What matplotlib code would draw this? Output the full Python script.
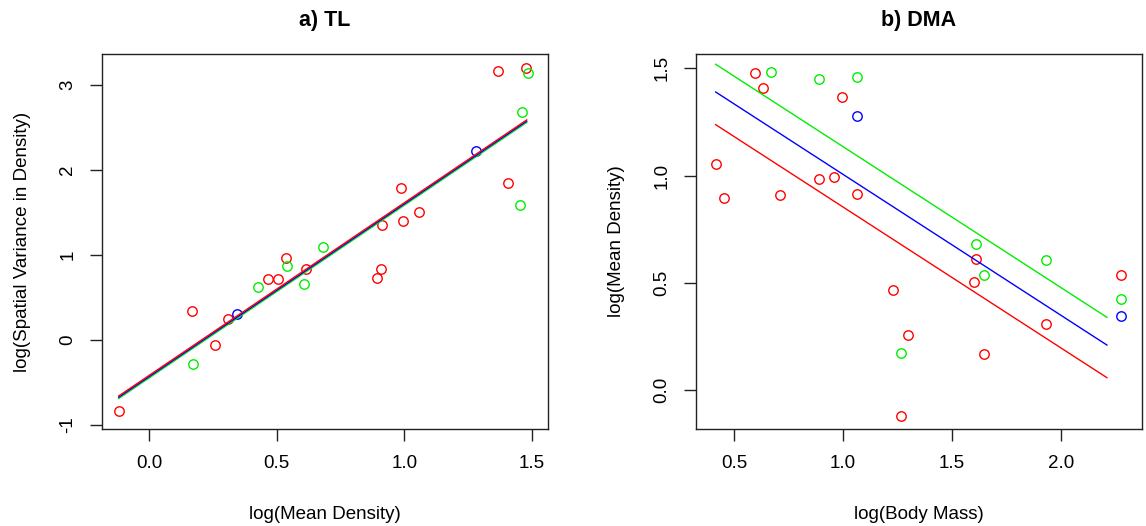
import matplotlib
matplotlib.use("Agg")
import matplotlib.pyplot as plt
import numpy as np

plt.rcParams['font.family'] = ['Liberation Sans', 'DejaVu Sans']

# ---------------- Panel a) TL data ----------------
tl_red_x = [-0.12, 0.169, 0.259, 0.310, 0.467, 0.503, 0.537, 0.613, 0.894, 0.909,
            0.913, 0.986, 0.994, 1.056, 1.366, 1.408, 1.478]
tl_red_y = [-0.835, 0.341, -0.059, 0.247, 0.718, 0.722, 0.969, 0.835, 0.733, 0.839,
            1.349, 1.788, 1.396, 1.506, 3.161, 1.851, 3.196]
tl_green_x = [0.173, 0.425, 0.539, 0.605, 0.681, 1.452, 1.460, 1.486]
tl_green_y = [-0.279, 0.627, 0.874, 0.655, 1.098, 1.588, 2.686, 3.141]
tl_blue_x = [0.344, 1.280]
tl_blue_y = [0.302, 2.224]

# fitted lines (intercept, slope) per group, and x extent
tl_line_int = {'red': -0.415, 'blue': -0.430, 'green': -0.445}
tl_line_slope = 2.03
tl_line_x = [-0.12, 1.48]

# ---------------- Panel b) DMA data ----------------
dma_red_x = [0.416, 0.453, 0.598, 0.634, 0.712, 0.890, 0.959, 0.994, 1.067, 1.229,
             1.265, 1.298, 1.604, 1.612, 1.650, 1.931, 2.277]
dma_red_y = [1.055, 0.896, 1.478, 1.407, 0.908, 0.986, 0.995, 1.366, 0.913, 0.467,
             -0.120, 0.259, 0.503, 0.613, 0.169, 0.309, 0.537]
dma_green_x = [0.668, 0.890, 1.067, 1.265, 1.612, 1.650, 1.931, 2.277]
dma_green_y = [1.484, 1.451, 1.459, 0.172, 0.683, 0.537, 0.607, 0.425]
dma_blue_x = [1.067, 2.277]
dma_blue_y = [1.279, 0.346]

dma_line_int = {'red': 1.510, 'blue': 1.662, 'green': 1.791}
dma_line_slope = -0.656
dma_line_x = [0.416, 2.212]

tl_xticks = [0.0, 0.5, 1.0, 1.5]
tl_xticklabels = ['0.0', '0.5', '1.0', '1.5']
tl_yticks = [-1, 0, 1, 2, 3]
tl_yticklabels = ['-1', '0', '1', '2', '3']
dma_xticks = [0.5, 1.0, 1.5, 2.0]
dma_xticklabels = ['0.5', '1.0', '1.5', '2.0']
dma_yticks = [0.0, 0.5, 1.0, 1.5]
dma_yticklabels = ['0.0', '0.5', '1.0', '1.5']

COLORS = {'red': '#FF0000', 'green': '#00EE00', 'blue': '#0000FF'}

W, H = 1146, 526
fig = plt.figure(figsize=(W / 100, H / 100), dpi=100)


def make_axes(left_px, right_px, top_px, bottom_px):
    return fig.add_axes([left_px / W, 1 - bottom_px / H,
                         (right_px - left_px) / W, (bottom_px - top_px) / H])


def style(ax, xticks, xtl, yticks, ytl, xlabel, ylabel, title):
    for s in ax.spines.values():
        s.set_linewidth(1.0)
        s.set_color('#222222')
    ax.set_xticks(xticks)
    ax.set_xticklabels(xtl)
    ax.set_yticks(yticks)
    ax.set_yticklabels(ytl, rotation=90, va='center')
    ax.tick_params(axis='both', direction='out', length=8.5, width=1.0,
                   color='#222222', labelsize=13.5, pad=10)
    ax.set_xlabel(xlabel, fontsize=13.5)
    ax.set_ylabel(ylabel, fontsize=13.5)
    ax.xaxis.set_label_coords(0.5, -0.2267)
    ax.xaxis.label.set_va('center')
    ax.yaxis.set_label_coords(-0.179, 0.5)
    ax.yaxis.label.set_va('center')
    ax.set_title(title, fontsize=15.5, fontweight='bold', y=1.088, pad=0,
                 va='center')


def draw_points(ax, x, y, c):
    ax.plot(x, y, linestyle='none', marker='o', markersize=6.8,
            markerfacecolor='none', markeredgecolor=COLORS[c], markeredgewidth=1.0)


# Panel a
ax1 = make_axes(102, 548, 54, 429)
ax1.set_xlim(-0.1855, 1.5635)
ax1.set_ylim(-1.047, 3.365)
draw_points(ax1, tl_red_x, tl_red_y, 'red')
draw_points(ax1, tl_green_x, tl_green_y, 'green')
draw_points(ax1, tl_blue_x, tl_blue_y, 'blue')
lx = np.array(tl_line_x)
for c in ['green', 'blue', 'red']:
    ax1.plot(lx, tl_line_int[c] + tl_line_slope * lx, color=COLORS[c], lw=1.0)
style(ax1, tl_xticks, tl_xticklabels, tl_yticks, tl_yticklabels,
      'log(Mean Density)', 'log(Spatial Variance in Density)', 'a) TL')

# Panel b
ax2 = make_axes(696, 1142, 54, 429)
ax2.set_xlim(0.3257, 2.373)
ax2.set_ylim(-0.180, 1.566)
draw_points(ax2, dma_red_x, dma_red_y, 'red')
draw_points(ax2, dma_green_x, dma_green_y, 'green')
draw_points(ax2, dma_blue_x, dma_blue_y, 'blue')
lx = np.array(dma_line_x)
for c in ['green', 'blue', 'red']:
    ax2.plot(lx, dma_line_int[c] + dma_line_slope * lx, color=COLORS[c], lw=1.0)
style(ax2, dma_xticks, dma_xticklabels, dma_yticks, dma_yticklabels,
      'log(Body Mass)', 'log(Mean Density)', 'b) DMA')

fig.savefig('out.png', dpi=100)
